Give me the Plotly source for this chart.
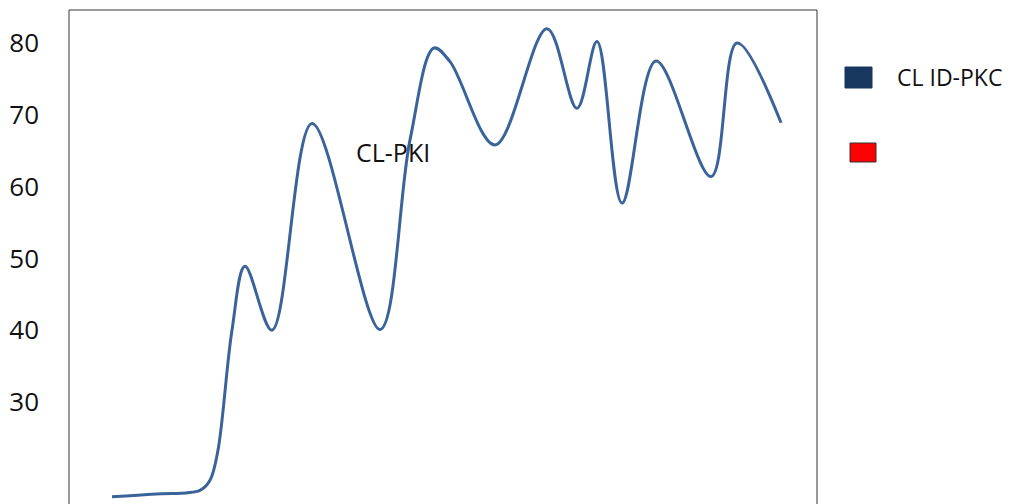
import plotly.graph_objects as go

# Data (x in arbitrary 0-100 units across the plot frame)
x_px = [112, 156, 200, 210, 218, 232, 245, 272, 312, 380, 410, 434, 450, 495, 547, 577, 597, 622, 656, 711, 737, 781]
y_vals = [16.8, 17.2, 17.7, 19.1, 23.3, 40.0, 48.9, 40.0, 68.8, 40.1, 66.5, 79.3, 77.4, 65.8, 82.0, 70.9, 80.2, 57.7, 77.5, 61.4, 80.0, 68.9]
x_vals = [round((p - 69) / 748 * 100, 2) for p in x_px]

y_ticks = [30, 40, 50, 60, 70, 80]
series_name = "CL ID-PKC"
annotation_text = "CL-PKI"

line_color = "#3A6499"
font_family = "Open Sans, Noto Sans, sans-serif"

fig = go.Figure()
fig.add_trace(go.Scatter(
    x=x_vals, y=y_vals, mode="lines",
    line=dict(color=line_color, width=3, shape="spline", smoothing=1.0),
    name=series_name, showlegend=False, hoverinfo="skip",
))

# page body has an 8px margin, compensated here
fig.update_layout(
    width=1013, height=504,
    margin=dict(l=61, r=204, t=2, b=8),
    paper_bgcolor="white", plot_bgcolor="white",
    showlegend=False,
    font=dict(family=font_family, color="#111111"),
    xaxis=dict(range=[0, 100], showgrid=False, zeroline=False, showticklabels=False,
               ticks="", showline=False),
    yaxis=dict(range=[80 - 461 / 7.18, 80 + 33 / 7.18], tickvals=y_ticks,
               showgrid=False, zeroline=False, showline=False, ticks="",
               tickfont=dict(size=26, color="#111111"), ticklabelstandoff=29),
)

# Frame (left, top, right; bottom edge falls outside the image)
fig.add_shape(type="rect", xref="paper", yref="paper", x0=0, x1=1, y0=-0.1, y1=1,
              line=dict(color="#333333", width=1), fillcolor="rgba(0,0,0,0)", layer="below")

# Legend drawn in paper coordinates
def px_x(p):
    return (p - 69) / 748

def px_y(p):
    return (504 - p) / 494

fig.add_shape(type="rect", xref="paper", yref="paper",
              x0=px_x(845), x1=px_x(872), y0=px_y(88), y1=px_y(67),
              fillcolor="#17375E", line=dict(color="#17375E", width=1))
fig.add_shape(type="rect", xref="paper", yref="paper",
              x0=px_x(850), x1=px_x(876), y0=px_y(162), y1=px_y(143),
              fillcolor="#FF0000", line=dict(color="#333333", width=1))
fig.add_annotation(xref="paper", yref="paper", x=px_x(895), y=px_y(77),
                   text=series_name, showarrow=False, xanchor="left", yanchor="middle",
                   font=dict(size=23, color="#111111", family=font_family))

fig.add_annotation(xref="paper", yref="paper", x=px_x(393), y=px_y(152),
                   text=annotation_text, showarrow=False, xanchor="center", yanchor="middle",
                   font=dict(size=25, color="#111111", family=font_family))

fig.write_html("out.html")
